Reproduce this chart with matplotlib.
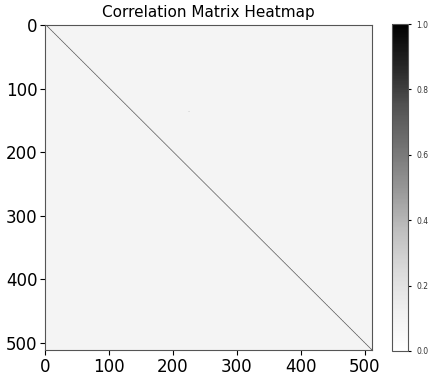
import numpy as np
import matplotlib
matplotlib.use("Agg")
import matplotlib.pyplot as plt

n_features = 512
diag_value = 1.0
off_diag_level = 0.09
outliers = [(137, 225, 0.5)]  # (row, col, value)

corr = np.full((n_features, n_features), off_diag_level)
np.fill_diagonal(corr, diag_value)
for r, c, v in outliers:
    corr[r, c] = v

fig = plt.figure(figsize=(4.29, 3.75), dpi=100)
ax = fig.add_axes([0.105, 0.0667, 0.762, 0.8667])
im = ax.imshow(corr, cmap="Greys", vmin=0, vmax=1, aspect="auto", interpolation="antialiased")
ax.set_title("Correlation Matrix Heatmap", fontsize=11, pad=6)
ax.set_xticks([0, 100, 200, 300, 400, 500])
ax.set_yticks([0, 100, 200, 300, 400, 500])
ax.tick_params(labelsize=12, pad=2)
for s in ax.spines.values():
    s.set_color("#555555")

cax = fig.add_axes([0.914, 0.0640, 0.038, 0.872])
cb = fig.colorbar(im, cax=cax)
cb.set_ticks([0.0, 0.2, 0.4, 0.6, 0.8, 1.0])
cb.ax.tick_params(labelsize=5.5, length=2, labelcolor="#333333")
cb.outline.set_edgecolor("#555555")

fig.savefig("out.png", dpi=100)
